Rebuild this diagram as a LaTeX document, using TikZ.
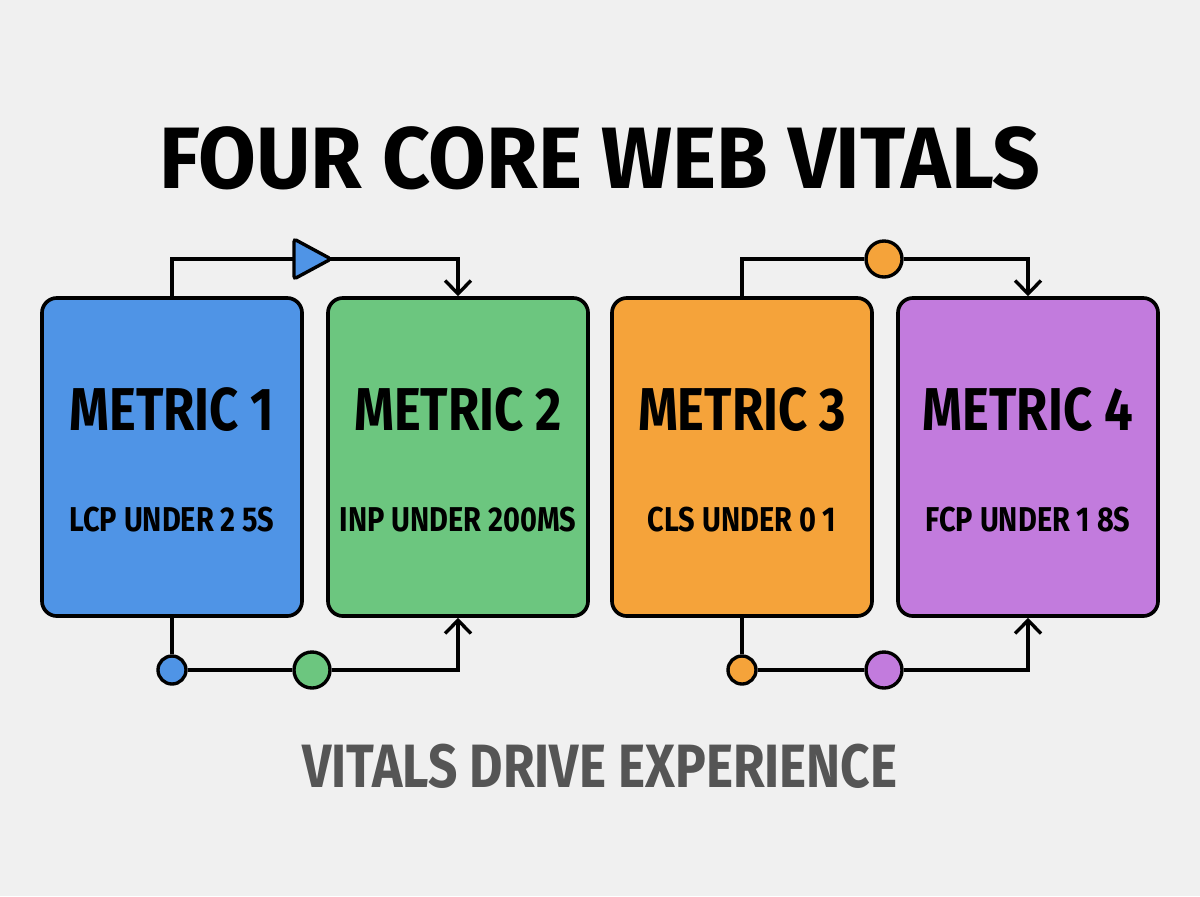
\documentclass[tikz,border=0pt]{standalone}
\usepackage{fontspec}
\newfontfamily\vitfont[FakeStretch=0.84]{Fira Sans}
\newfontfamily\headfont[FakeStretch=0.96]{Fira Sans}
\usetikzlibrary{arrows.meta,shapes.geometric}
\definecolor{bg}{HTML}{F0F0F0}
\definecolor{vblue}{HTML}{4F94E6}
\definecolor{vgreen}{HTML}{6CC67F}
\definecolor{vorange}{HTML}{F5A33A}
\definecolor{vpurple}{HTML}{C27BDD}
\definecolor{vgray}{HTML}{555555}
\tikzset{
  card/.style={draw=black, line width=2.6pt, rounded corners=0.375cm,
    minimum width=6.5cm, minimum height=7.95cm},
  link/.style={line width=2.4pt},
  arr/.style={link, -{Straight Barb[length=0.33cm,width=0.65cm,line width=2.4pt]}},
  dot/.style={circle, draw=black, line width=2.4pt, inner sep=0pt, minimum size=0.7cm},
  bigdot/.style={dot, minimum size=0.9cm},
  metric/.style={font=\vitfont\bfseries\fontsize{43}{43}\selectfont},
  target/.style={font=\vitfont\bfseries\fontsize{24.5}{24.5}\selectfont}
}
\begin{document}
\begin{tikzpicture}[x=0.025cm, y=-0.025cm]
  \fill [bg] (0,0) rectangle (1200,896);
  \useasboundingbox (0,0) rectangle (1200,896);

  \node (title) at (600,158) {\headfont\bfseries\fontsize{62}{62}\selectfont FOUR CORE WEB VITALS};

% cards
  \node [card, fill=vblue] (m1) at (172,457) {};
  \node [card, fill=vgreen] (m2) at (458,457) {};
  \node [card, fill=vorange] (m3) at (742,457) {};
  \node [card, fill=vpurple] (m4) at (1028,457) {};

  \node [metric] (m1name) at (172,410) {METRIC 1};
  \node [metric] (m2name) at (458,410) {METRIC 2};
  \node [metric] (m3name) at (742,410) {METRIC 3};
  \node [metric] (m4name) at (1028,410) {METRIC 4};

  \node [target] (m1goal) at (172,520) {LCP UNDER 2 5S};
  \node [target] (m2goal) at (458,520) {INP UNDER 200MS};
  \node [target] (m3goal) at (742,520) {CLS UNDER 0 1};
  \node [target] (m4goal) at (1028,520) {FCP UNDER 1 8S};

% top links
  \coordinate (t12) at (310,259);
  \draw [link] (m1.north) |- (t12);
  \draw [arr] (t12) -| (m2.north);
  \draw [link, fill=vblue, rounded corners=2pt] (t12) +(-16,-20) -- +(21,0) -- +(-16,20) -- cycle;

  \node [bigdot, fill=vorange] (t34) at (884,259) {};
  \draw [link] (m3.north) |- (t34);
  \draw [arr] (t34) -| (m4.north);

% bottom links
  \node [dot, fill=vblue] (b1) at (172,670) {};
  \node [bigdot, fill=vgreen] (b2) at (312,670) {};
  \draw [link] (m1.south) -- (b1);
  \draw [link] (b1) -- (b2);
  \draw [arr] (b2) -| (m2.south);

  \node [dot, fill=vorange] (b3) at (742,670) {};
  \node [bigdot, fill=vpurple] (b4) at (884,670) {};
  \draw [link] (m3.south) -- (b3);
  \draw [link] (b3) -- (b4);
  \draw [arr] (b4) -| (m4.south);

  \node [text=vgray] (motto) at (600,766) {\vitfont\bfseries\fontsize{43.5}{43.5}\selectfont VITALS DRIVE EXPERIENCE};
\end{tikzpicture}
\end{document}
